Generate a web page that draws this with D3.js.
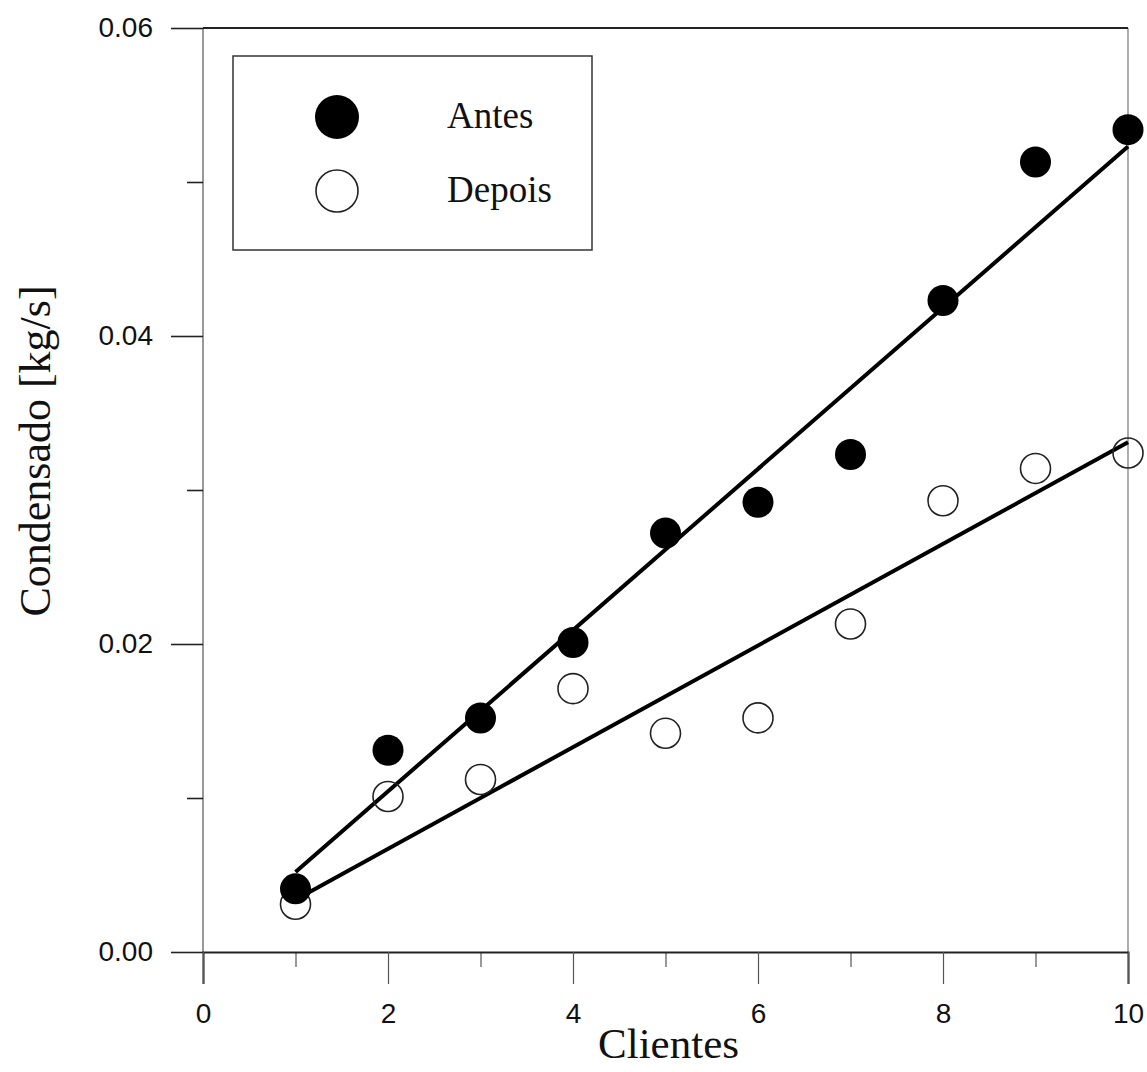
<!DOCTYPE html>
<html>
<head>
<meta charset="utf-8">
<script src="https://cdn.jsdelivr.net/npm/d3@7"></script>
<style>
  body { margin: 0; background: #fff; }
</style>
</head>
<body>
<div class="chart"></div>
<script>
// data
const clientes = [1, 2, 3, 4, 5, 6, 7, 8, 9, 10];
const antes = [0.0041, 0.0131, 0.0152, 0.0201, 0.0272, 0.0292, 0.0323, 0.0423, 0.0513, 0.0534];
const depois = [0.0031, 0.0101, 0.0112, 0.0171, 0.0142, 0.0152, 0.0213, 0.0293, 0.0314, 0.0324];
const fitX = [1, 10];
const fitAntes = [0.0052, 0.0523];
const fitDepois = [0.0034, 0.0331];
const xMajor = [0, 2, 4, 6, 8, 10];
const xMinor = [1, 3, 5, 7, 9];
const yMajor = [0, 0.02, 0.04, 0.06];
const yMinor = [0.01, 0.03, 0.05];

const width = 1147;
const height = 1072;
const margin = { top: 28, bottom: 120, left: 203, right: 19 };

const svg = d3.select('.chart')
  .append('svg')
  .attr('width', width)
  .attr('height', height);

const x = d3.scaleLinear()
  .domain([0, 10])
  .range([margin.left, width - margin.right]);

const y = d3.scaleLinear()
  .domain([0, 0.06])
  .range([height - margin.bottom, margin.top]);

// frame: thin sides, heavier top/bottom
svg.append("line")
  .attr("x1", x(0)).attr("x2", x(0))
  .attr("y1", y(0.06)).attr("y2", y(0))
  .attr("stroke", "#555").attr("stroke-width", 1.2);
svg.append("line")
  .attr("x1", x(10)).attr("x2", x(10))
  .attr("y1", y(0.06)).attr("y2", y(0))
  .attr("stroke", "#777").attr("stroke-width", 1.2);
svg.append("line")
  .attr("x1", x(0)).attr("x2", x(10))
  .attr("y1", y(0.06)).attr("y2", y(0.06))
  .attr("stroke", "#222").attr("stroke-width", 2);

// axes
const xAxis = g => {
  g.attr("transform", `translate(0,${y(0)})`)
  .call(d3.axisBottom(x).tickValues(xMajor).tickSize(32).tickPadding(19).tickFormat(d3.format("d")))
  .call(g => g.select(".domain").attr("stroke", "#222").attr("stroke-width", 2))
  .call(g => g.selectAll(".tick line").attr("stroke", "#555").attr("stroke-width", 1.2))
  .attr("font-size", "28px")
  .attr("font-family", "'Liberation Sans', Arial, sans-serif")
};
const xAxisMinor = g => {
  g.attr("transform", `translate(0,${y(0)})`)
  .call(d3.axisBottom(x).tickValues(xMinor).tickSize(15).tickFormat(""))
  .call(g => g.select(".domain").remove())
  .call(g => g.selectAll(".tick line").attr("stroke", "#555").attr("stroke-width", 1.2))
};
const yAxis = g => {
  g.attr("transform", `translate(${x(0)},0)`)
  .call(d3.axisLeft(y).tickValues(yMajor).tickSize(32).tickPadding(18).tickFormat(d3.format(".2f")))
  .call(g => g.select(".domain").remove())
  .call(g => g.selectAll(".tick line").attr("stroke", "#222").attr("stroke-width", 1.6))
  .attr("font-size", "28px")
  .attr("font-family", "'Liberation Sans', Arial, sans-serif")
};
const yAxisMinor = g => {
  g.attr("transform", `translate(${x(0)},0)`)
  .call(d3.axisLeft(y).tickValues(yMinor).tickSize(16).tickFormat(""))
  .call(g => g.select(".domain").remove())
  .call(g => g.selectAll(".tick line").attr("stroke", "#222").attr("stroke-width", 1.6))
};

svg.append("g").call(xAxisMinor);
svg.append("g").call(xAxis);
svg.append("g").call(yAxisMinor);
svg.append("g").call(yAxis);
svg.selectAll(".tick text").attr("fill", "#111");

// axis titles
svg.append("text")
  .attr("x", (x(0) + x(10)) / 2 + 3)
  .attr("y", 1058)
  .attr("text-anchor", "middle")
  .attr("font-family", "'Liberation Serif', 'Times New Roman', serif")
  .attr("font-size", "43px")
  .attr("fill", "#111")
  .text("Clientes");

svg.append("text")
  .attr("transform", `translate(50,${(y(0) + y(0.06)) / 2 - 39}) rotate(-90)`)
  .attr("text-anchor", "middle")
  .attr("font-family", "'Liberation Serif', 'Times New Roman', serif")
  .attr("font-size", "44px")
  .attr("fill", "#111")
  .text("Condensado [kg/s]");

// fit lines
const line = d3.line().x(d => x(d[0])).y(d => y(d[1]));
svg.append("path")
  .attr("d", line(fitX.map((d, i) => [d, fitAntes[i]])))
  .attr("fill", "none").attr("stroke", "#000").attr("stroke-width", 4);
svg.append("path")
  .attr("d", line(fitX.map((d, i) => [d, fitDepois[i]])))
  .attr("fill", "none").attr("stroke", "#000").attr("stroke-width", 4);

// points
svg.append("g")
  .selectAll("circle")
  .data(clientes)
  .join("circle")
  .attr("cx", d => x(d))
  .attr("cy", (d, i) => y(depois[i]))
  .attr("r", 15)
  .attr("fill", "none")
  .attr("stroke", "#222")
  .attr("stroke-width", 1.6);

svg.append("g")
  .selectAll("circle")
  .data(clientes)
  .join("circle")
  .attr("cx", d => x(d))
  .attr("cy", (d, i) => y(antes[i]))
  .attr("r", 15.5)
  .attr("fill", "#000");

// legend
const legend = svg.append("g");
legend.append("rect")
  .attr("x", 233).attr("y", 56)
  .attr("width", 359).attr("height", 194)
  .attr("fill", "#fff")
  .attr("stroke", "#333").attr("stroke-width", 1.5);
legend.append("circle")
  .attr("cx", 337).attr("cy", 117).attr("r", 22)
  .attr("fill", "#000");
legend.append("circle")
  .attr("cx", 337).attr("cy", 191).attr("r", 21)
  .attr("fill", "#fff").attr("stroke", "#222").attr("stroke-width", 1.6);
legend.selectAll("text")
  .data(["Antes", "Depois"])
  .join("text")
  .attr("x", 447)
  .attr("y", (d, i) => 128 + i * 74)
  .attr("font-family", "'Liberation Serif', 'Times New Roman', serif")
  .attr("font-size", "37px")
  .attr("fill", "#111")
  .text(d => d);
</script>
</body>
</html>
